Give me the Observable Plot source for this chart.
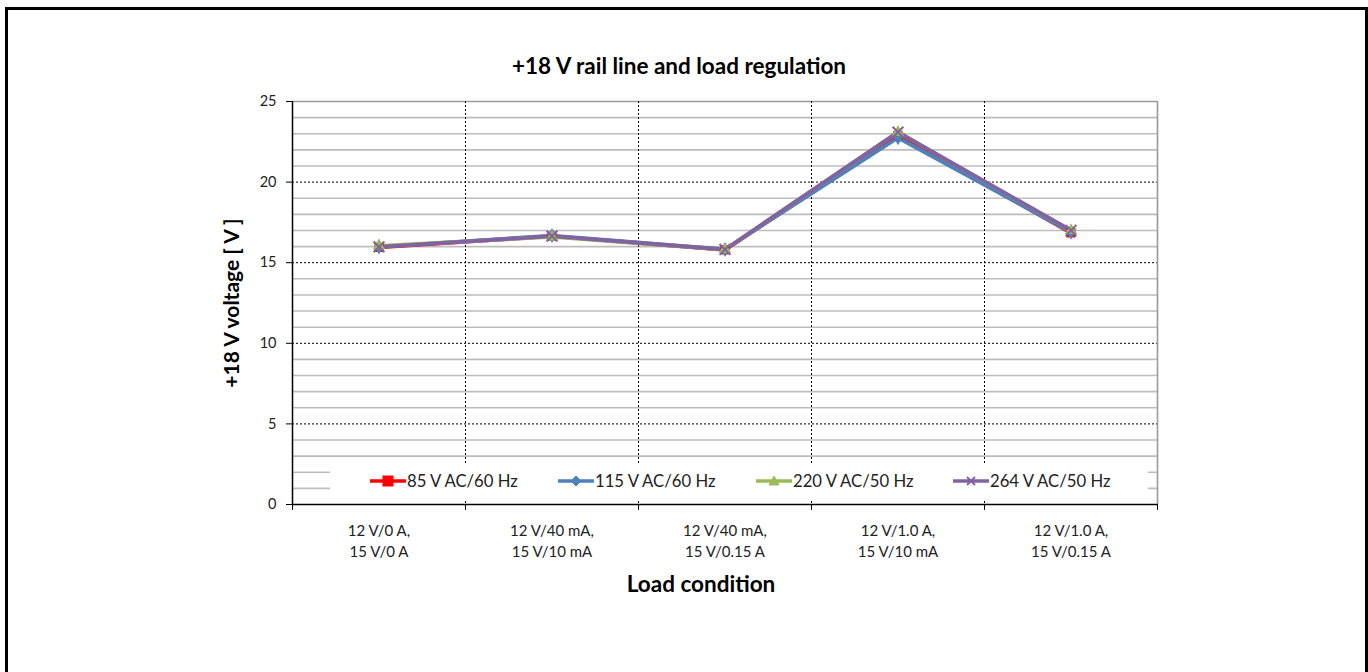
<!DOCTYPE html>
<html>
<head>
<meta charset="utf-8">
<script src="https://cdn.jsdelivr.net/npm/d3@7"></script>
<script src="https://cdn.jsdelivr.net/npm/@observablehq/plot@0.6"></script>
<style>
  body { margin: 0; background: #fff; font-family: Lato, "Open Sans", sans-serif; }
  #wrap { position: relative; width: 1368px; height: 672px; overflow: hidden; background: #fff; }
  #frame { position: absolute; left: 5px; top: 7px; width: 1357px; height: 720px; border: 3px solid #000; border-bottom: none; }
  #chart { position: absolute; left: 0; top: 0; }
  #legend { position: absolute; left: 330px; top: 463px; width: 818px; height: 36px; background: #fff; }
  .item { position: absolute; top: 8px; display: flex; align-items: center; font-size: 16.7px; color: #222; white-space: nowrap; }
  .item svg { margin-right: 1px; }
</style>
</head>
<body>
<div id="wrap">
  <div id="frame"></div>
  <div id="chart"></div>
  <div id="legend"></div>
</div>
<script>
const categories = [
  "12 V/0 A,\n15 V/0 A",
  "12 V/40 mA,\n15 V/10 mA",
  "12 V/40 mA,\n15 V/0.15 A",
  "12 V/1.0 A,\n15 V/10 mA",
  "12 V/1.0 A,\n15 V/0.15 A"
];
const seriesNames = ["85 V AC/60 Hz", "115 V AC/60 Hz", "220 V AC/50 Hz", "264 V AC/50 Hz"];
const v85  = [15.95, 16.65, 15.80, 22.90, 16.85];
const v115 = [15.98, 16.68, 15.82, 22.75, 16.90];
const v220 = [16.05, 16.60, 15.82, 23.10, 17.00];
const v264 = [15.98, 16.65, 15.82, 23.10, 17.00];
const yTicks = [0, 5, 10, 15, 20, 25];

const seriesValues = [v85, v115, v220, v264];
const colors = ["#FF0000", "#4F81BD", "#9BBB59", "#8064A2"];
const symbols = ["square", "diamond", "triangle", "times"];

const rows = [];
seriesValues.forEach((vals, s) => vals.forEach((v, i) => rows.push({series: seriesNames[s], idx: i + 0.5, value: v})));
const catRows = categories.map((c, i) => ({idx: i + 0.5, label: c}));

const minor = d3.range(1, 25).filter(d => d % 5 !== 0);
const major = [5, 10, 15, 20];

const marks = [
  Plot.ruleY(minor, {stroke: "#bdbdbd", strokeWidth: 1.6}),
  Plot.ruleY([25], {stroke: "#9a9a9a", strokeWidth: 1.6}),
  Plot.ruleY(major, {stroke: "#000", strokeWidth: 1, strokeDasharray: "2,2"}),
  Plot.ruleX([1, 2, 3, 4], {stroke: "#000", strokeWidth: 1, strokeDasharray: "2,2"}),
  Plot.ruleX([5], {stroke: "#9a9a9a", strokeWidth: 1.6}),
  Plot.axisY({ticks: yTicks, tickSize: 6, tickPadding: 10, fontSize: 14.5, label: null, stroke: "#000"}),
  Plot.axisX({ticks: [0, 1, 2, 3, 4, 5], tickSize: 6, tickFormat: () => "", label: null, stroke: "#000"}),
  Plot.ruleX([0], {stroke: "#000", strokeWidth: 1.5}),
  Plot.ruleY([0], {stroke: "#000", strokeWidth: 1.5}),
  Plot.text(catRows, {x: "idx", text: "label", frameAnchor: "bottom", lineAnchor: "middle", dy: 35.5, fontSize: 15, lineHeight: 1.4, fill: "#222"}),
  Plot.text(["+18 V rail line and load regulation"], {frameAnchor: "top", lineAnchor: "middle", dx: -46, dy: -35, fontSize: 22.5, fontWeight: "bold", fill: "#000"}),
  Plot.text(["+18 V voltage [ V ]"], {frameAnchor: "left", textAnchor: "middle", lineAnchor: "middle", dx: -60, rotate: -90, fontSize: 21, fontWeight: "bold", fill: "#000"}),
  Plot.text(["Load condition"], {frameAnchor: "bottom", lineAnchor: "middle", dx: -24, dy: 80, fontSize: 22.5, fontWeight: "bold", fill: "#000"})
];
seriesNames.forEach((name, s) => {
  const d = rows.filter(r => r.series === name);
  marks.push(Plot.line(d, {x: "idx", y: "value", stroke: colors[s], strokeWidth: 3.8}));
});
seriesNames.forEach((name, s) => {
  const d = rows.filter(r => r.series === name);
  if (symbols[s] === "times") {
    marks.push(Plot.dot(d, {x: "idx", y: "value", symbol: "times", r: 5, stroke: colors[s], strokeWidth: 2}));
  } else {
    marks.push(Plot.dot(d, {x: "idx", y: "value", symbol: symbols[s], r: symbols[s] === "square" ? 5.2 : 4.6, fill: colors[s], stroke: "none"}));
  }
});

const chart = Plot.plot({
  width: 1368,
  height: 672,
  marginLeft: 292,
  marginRight: 211,
  marginTop: 101,
  marginBottom: 168,
  style: {background: "transparent", fontFamily: "Lato, 'Open Sans', sans-serif", color: "#222"},
  x: {type: "linear", domain: [0, 5], axis: null},
  y: {type: "linear", domain: [0, 25], axis: null},
  marks
});
document.getElementById("chart").appendChild(chart);

// Legend
const legend = document.getElementById("legend");
const lefts = [40, 228, 426, 623];
const symPaths = {
  square: '<rect x="13" y="2" width="10" height="10"/>',
  diamond: '<path d="M18 2 L23 7 L18 12 L13 7 Z"/>',
  triangle: '<path d="M18 2 L23 11 L13 11 Z"/>',
  times: '<path d="M14 3 L22 11 M22 3 L14 11" fill="none" stroke-width="2"/>'
};
seriesNames.forEach((name, s) => {
  const item = document.createElement("div");
  item.className = "item";
  item.style.left = lefts[s] + "px";
  const sym = symPaths[symbols[s]];
  item.innerHTML = `<svg width="36" height="14" viewBox="0 0 36 14"><line x1="0" y1="7" x2="36" y2="7" stroke="${colors[s]}" stroke-width="3.6"/><g fill="${colors[s]}" stroke="${colors[s]}">${sym}</g></svg><span>${name}</span>`;
  legend.appendChild(item);
});
</script>
</body>
</html>
